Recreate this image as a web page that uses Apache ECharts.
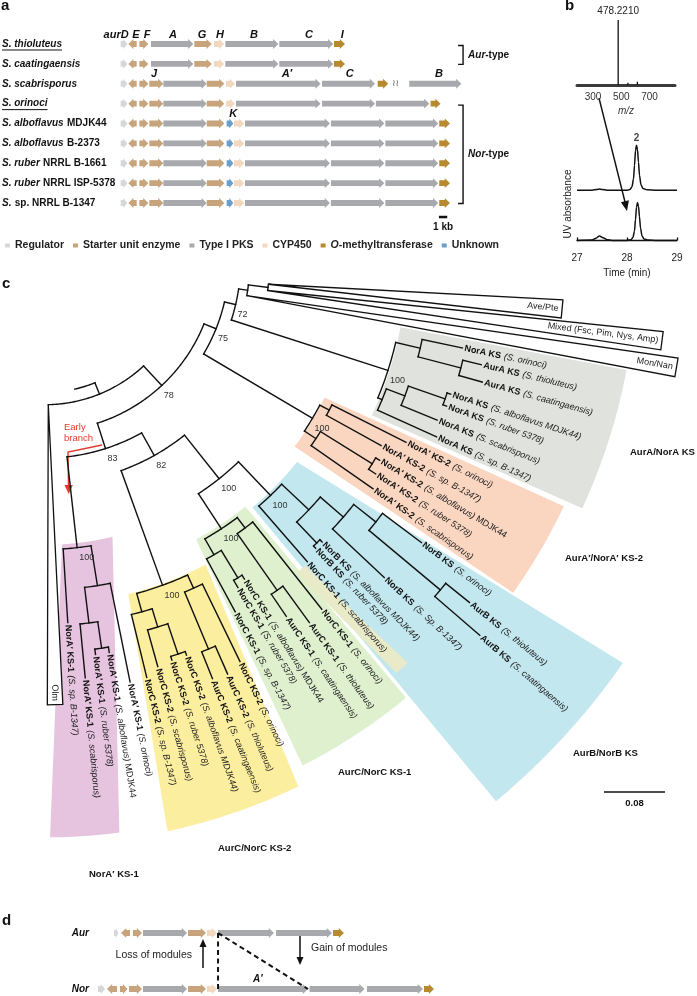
<!DOCTYPE html>
<html>
<head>
<meta charset="utf-8">
<script src="https://cdn.jsdelivr.net/npm/echarts@6.0.0/dist/echarts.min.js"></script>
<style>
html,body{margin:0;padding:0;background:#fff;}
#chart{width:697px;height:996px;}
</style>
</head>
<body>
<div id="chart"></div>
<script>
const FONT = '"Liberation Sans", Arial, Helvetica, sans-serif';

/* ================= a : gene clusters ================= */
const geneTypes = ['Regulator', 'Starter unit enzyme', 'Type I PKS', 'CYP450', 'O-methyltransferase', 'Unknown'];
const typeColors = ['#d6d7da', '#c7a47c', '#a7a9ac', '#f1d8bf', '#b88a2f', '#6b9fcb'];
const strainItalic = ['S. thioluteus', 'S. caatingaensis', 'S. scabrisporus', 'S. orinoci', 'S. alboflavus', 'S. alboflavus', 'S. ruber', 'S. ruber', 'S.'];
const strainPlain = ['', '', '', '', 'MDJK44', 'B-2373', 'NRRL B-1661', 'NRRL ISP-5378', 'sp. NRRL B-1347'];
const underlinedRows = [0, 3];
// genes: [start kb, end kb, strand, type index]
const aurCluster = [[0,0.8,1,0],[0.92,1.92,-1,1],[2.24,3.32,1,1],[3.64,8.72,1,2],[8.84,10.93,1,1],[11.2,12.43,1,3],[12.56,18.93,1,2],[19.04,25.52,1,2],[25.6,26.93,1,4]];
const scabCluster = [[0,0.8,1,0],[0.92,1.92,-1,1],[2.24,3.32,1,1],[3.44,5.12,1,1],[5.12,10.33,1,2],[10.33,12.44,1,1],[12.64,13.72,1,3],[13.84,24.0,1,2],[24.17,30.53,1,2],[30.85,32.12,1,4],[34.64,40.9,1,2]];
const orinociCluster = [[0,0.8,1,0],[0.92,1.92,-1,1],[2.24,3.32,1,1],[3.44,5.12,1,1],[5.12,10.33,1,2],[10.33,12.44,1,1],[12.64,13.72,1,3],[13.84,24.0,1,2],[24.17,30.53,1,2],[30.64,37.05,1,2],[37.2,38.4,1,4]];
const norCluster = [[0,0.8,1,0],[0.92,1.92,-1,1],[2.24,3.32,1,1],[3.44,5.12,1,1],[5.12,10.33,1,2],[10.33,12.44,1,1],[12.72,13.52,1,5],[13.6,14.84,1,3],[14.92,25.12,1,2],[25.24,31.65,1,2],[31.77,38.12,1,2],[38.24,39.53,1,4]];
const rowClusters = [aurCluster, aurCluster, scabCluster, orinociCluster, norCluster, norCluster, norCluster, norCluster, norCluster];
const geneNames = ['aurD','E','F','A','G','H','B','C','I','J','A\u2032','C','B','K'];
const geneNameKb = [-0.55,1.84,3.16,6.28,9.76,11.92,16.0,22.6,26.6,4.0,19.96,27.5,38.2,13.5];
const geneNameRow = [0,0,0,0,0,0,0,0,0,2,2,2,2,4];
const breakMark = [33.0, 2];
const typeGroups = ['Aur', 'Nor'];
const groupRows = [[0, 1], [3, 8]];
const groupKb = 41.1;
const kbBar = [38.2, 39.2, 8];

/* ================= b : MS + UV ================= */
const msMz = [478.221, 547, 614];
const msIntensity = [1, 0.035, 0.05];
const mzTicks = [300, 500, 700];
const uvTopTime = [27.0,27.30,27.40,27.45,27.50,27.60,28.00,28.06,28.10,28.13,28.15,28.17,28.19,28.21,28.23,28.25,28.28,28.32,28.40,28.60,29.00];
const uvTopAbs  = [0,0,0.02,0.03,0.02,0,0,0.02,0.08,0.25,0.55,0.88,1.00,0.90,0.62,0.33,0.12,0.04,0.01,0,0];
const uvBotTime = [27.0,27.30,27.38,27.45,27.52,27.60,27.70,28.00,28.08,28.12,28.15,28.17,28.19,28.21,28.23,28.25,28.27,28.30,28.34,28.42,28.60,29.00];
const uvBotAbs  = [0,0.01,0.06,0.12,0.07,0.02,0,0,0.02,0.08,0.25,0.55,0.88,1.00,0.90,0.62,0.33,0.12,0.04,0.01,0,0];
const peakTime = 28.19;

/* ================= c : KS tree ================= */
// internal node: [distance from root, bootstrap, child, child]; leaf: [protein, strain, angle deg, tip distance]
// collapsed clade: ['#', label, apex angle, far distance, angle from, angle to]
const cladeAurANorA = [0.283, 100,
  [0.316, 0, ['NorA KS', '(S. orinoci)', 11.9, 0.370],
             [0.374, 0, ['AurA KS', '(S. thioluteus)', 13.5, 0.399], ['AurA KS', '(S. caatingaensis)', 15.6, 0.406]]],
  [0.289, 0, [0.315, 0, [0.366, 0, ['NorA KS', '(S. alboflavus MDJK44)', 18.3, 0.371], ['NorA KS', '(S. ruber 5378)', 20.0, 0.371]],
                        ['NorA KS', '(S. scabrisporus)', 22.2, 0.366]],
             ['NorA KS', '(S. sp. B-1347)', 24.3, 0.374]]];
const cladeNorA2 = [0.218, 100,
  [0.232, 0, ['NorA\u2032 KS-2', '(S. orinoci)', 26.8, 0.341], ['NorA\u2032 KS-2', '(S. sp. B-1347)', 28.9, 0.314]],
  [0.236, 0, [0.316, 0, ['NorA\u2032 KS-2', '(S. alboflavus) MDJK44', 30.9, 0.322], ['NorA\u2032 KS-2', '(S. ruber 5378)', 32.9, 0.327]],
             ['NorA\u2032 KS-2', '(S. scabrisporus)', 34.9, 0.335]]];
const cladeNorB = [0.238, 100,
  [0.287, 0, [0.327, 0, [0.364, 0, ['NorB KS', '(S. orinoci)', 36.9, 0.428],
                                   [0.486, 0, ['AurB KS', '(S. thioluteus)', 38.9, 0.526], ['AurB KS', '(S. caatingaensis)', 40.8, 0.564]]],
                        ['NorB KS', '(S. Sp. B-1347)', 43.1, 0.420]],
             [0.325, 0, ['NorB KS', '(S. alboflavus MDJK44)', 45.5, 0.329], ['NorB KS', '(S. ruber 5378)', 46.8, 0.329]]],
  ['NorC KS-1', '(S. scabrisporus)', 49.0, 0.335]];
const cladeNorC1 = [0.232, 100,
  [0.249, 0, ['NorC KS-1', '(S. orinoci)', 51.6, 0.395],
             [0.340, 0, ['AurC KS-1', '(S. thioluteus)', 53.9, 0.399], ['AurC KS-1', '(S. caatingaensis)', 55.9, 0.375]]],
  [0.256, 0, [0.298, 0, ['NorC KS-1', '(S. alboflavus) MDJK44', 58.0, 0.304], ['NorC KS-1', '(S. ruber 5378)', 59.5, 0.309]],
             ['NorC KS-1', '(S. sp. B-1347)', 61.6, 0.335]]];
const cladeNorC2 = [0.264, 100,
  [0.283, 0, ['NorC KS-2', '(S. orinoci)', 64.1, 0.396],
             [0.364, 0, ['AurC KS-2', '(S. thioluteus)', 66.2, 0.404], ['AurC KS-2', '(S. caatingaensis)', 68.2, 0.402]]],
  [0.289, 0, [0.314, 0, [0.356, 0, ['NorC KS-2', '(S. alboflavus MDJK44)', 70.3, 0.361], ['NorC KS-2', '(S. ruber 5378)', 72.4, 0.361]],
                        ['NorC KS-2', '(S. scabrisporus)', 74.5, 0.364]],
             ['NorC KS-2', '(S. sp. B-1347)', 76.3, 0.374]]];
const cladeNorA1 = [0.190, 100,
  [0.243, 0, ['NorA\u2032 KS-1', '(S. orinoci)', 78.6, 0.375],
             [0.290, 0, [0.325, 0, ['NorA\u2032 KS-1', '(S. alboflavus) MDJK44', 80.7, 0.332], ['NorA\u2032 KS-1', '(S. ruber 5378)', 82.7, 0.332]],
                        ['NorA\u2032 KS-1', '(S. scabrisporus)', 84.5, 0.361]]],
  ['NorA\u2032 KS-1', '(S. sp. B-1347)', 86.4, 0.287]];
const cladeOutgroups = [0.079, 0,
  [0.105, 0, ['#', 'Ave/Pte', 6.2, 0.492, 4.4, 6.4], ['#', 'Mixed (Fsc, Pim, Nys, Amp)', 7.8, 0.627, 6.6, 8.3]],
  ['#', 'Mon/Nan', 10.0, 0.651, 8.8, 10.5]];
const backbone = [0, 0,
  ['#', 'Olm', 88.7, 0.394, 87.7, 89.7],
  [0.035, 78,
    [0.052, 75, [0.067, 72, cladeOutgroups, cladeAurANorA], cladeNorA2],
    [0.070, 83, [0.104, 82, [0.177, 100, cladeNorB, cladeNorC1], cladeNorC2], cladeNorA1]]];
const rootStub = [-0.016, 77];
// shaded clades: [inner dist, outer dist, inner angle from, inner angle to, outer angle from, outer angle to]
const cladeBoxes = [
  [0.285, 0.587, 10.7, 25.4, 10.7, 24.8],
  [0.219, 0.564, 26.2, 36.8, 25.4, 35.4],
  [0.234, 0.735, 38.7, 50.0, 34.9, 50.2],
  [0.227, 0.555, 50.9, 61.6, 50.5, 63.0],
  [0.337, 0.522, 49.6, 51.2, 48.0, 49.6],
  [0.262, 0.577, 62.2, 76.0, 64.3, 77.9],
  [0.184, 0.568, 76.3, 86.6, 82.6, 89.5]
];
const cladeColors = ['#dfe2dd', '#fad6c1', '#c2e7ef', '#dff0cf', '#e8eac8', '#fcee9f', '#e6c3df'];
const treeScale = 0.08;

/* ================= d : module change ================= */
const dRows = ['Aur', 'Nor'];
const dAur = [[1.87,2.4,1,0],[2.69,3.74,-1,1],[4.09,5.15,1,1],[5.26,10.41,1,2],[10.53,12.63,1,1],[12.75,13.92,1,3],[14.04,20.58,1,2],[20.82,27.37,1,2],[27.49,28.77,1,4]];
const dNor = [[0,0.82,1,0],[1.05,2.22,-1,1],[2.57,3.45,1,1],[3.63,5.15,1,1],[5.26,10.41,1,2],[10.53,12.63,1,1],[12.75,13.92,1,3],[14.04,24.56,1,2],[24.74,31.17,1,2],[31.46,38.01,1,2],[38.13,39.3,1,4]];
const moduleLinks = [[14.04, 0, 14.04, 1], [14.04, 0, 24.56, 1]];
const aPrimeLabel = [18.7, 1];

/* ================= helpers ================= */
function arrowItem(params, api) {
  const s = api.value(0), e = api.value(1), row = api.value(2), dir = api.value(3);
  const a = api.coord([s, row]), b = api.coord([e, row]);
  const y = a[1], x1 = a[0], x2 = b[0];
  const L = x2 - x1, hl = Math.min(5.2, L * 0.6), hb = 2.9, hh = 4.9;
  let pts;
  if (dir > 0) pts = [[x1,y-hb],[x2-hl,y-hb],[x2-hl,y-hh],[x2,y],[x2-hl,y+hh],[x2-hl,y+hb],[x1,y+hb]];
  else pts = [[x2,y-hb],[x1+hl,y-hb],[x1+hl,y-hh],[x1,y],[x1+hl,y+hh],[x1+hl,y+hb],[x2,y+hb]];
  return {type: 'polygon', shape: {points: pts}, style: {fill: api.visual('color')}};
}
function arcPts(api, d, a0, a1) {
  const pts = [];
  const n = Math.max(2, Math.ceil(Math.abs(a1 - a0) / 0.4) + 1);
  for (let k = 0; k < n; k++) pts.push(api.coord([d, a0 + (a1 - a0) * k / (n - 1)]));
  return pts;
}
const T = {radials: [], arcs: [], leaves: [], collapsed: [], supports: []};
function walk(n, pd) {
  if (typeof n[0] === 'string') {
    if (n[0] === '#') { T.collapsed.push([pd, n[2], n[3], n[4], n[5], n[1]]); return n[2]; }
    T.leaves.push([n[3], n[2], n[0], n[1]]);
    T.radials.push([pd, n[3], n[2]]);
    return n[2];
  }
  const angs = n.slice(2).map(k => walk(k, n[0]));
  const lo = Math.min(...angs), hi = Math.max(...angs), a = (lo + hi) / 2;
  T.arcs.push([n[0], lo, hi]);
  if (pd !== null) T.radials.push([pd, n[0], a]);
  if (n[1]) T.supports.push([n[0], a, n[1]]);
  return a;
}
const rootAngle = walk(backbone, null);
T.radials.push([rootStub[0], 0, rootAngle]);
T.arcs.push([rootStub[0], rootAngle, rootStub[1]]);

function leafText(prot, strain) {
  const k = strain.indexOf(') ');
  if (k >= 0) return '{b|' + prot + '} {i|' + strain.slice(0, k + 1) + '}{n|' + strain.slice(k + 1) + '}';
  return '{b|' + prot + '} {i|' + strain + '}';
}
const leafRich = {
  b: {fontFamily: FONT, fontSize: 9, fontWeight: 'bold', fill: '#111'},
  i: {fontFamily: FONT, fontSize: 9, fontStyle: 'italic', fill: '#222'},
  n: {fontFamily: FONT, fontSize: 9, fill: '#222'}
};
const LINE = '#111';

function measure(text, font) {
  const c = document.createElement('canvas').getContext('2d');
  c.font = font;
  return c.measureText(text).width;
}

/* ================= option ================= */
const geneSeries = geneTypes.map((name, t) => ({
  type: 'custom', name, xAxisIndex: 0, yAxisIndex: 0, z: 3,
  itemStyle: {color: typeColors[t]},
  encode: {x: [0, 1], y: 2},
  data: rowClusters.flatMap((cl, row) => cl.filter(g => g[3] === t).map(g => [g[0], g[1], row, g[2]])),
  renderItem: arrowItem
}));
const dGeneSeries = geneTypes.map((name, t) => ({
  type: 'custom', name: 'd-' + name, xAxisIndex: 4, yAxisIndex: 4, z: 3,
  itemStyle: {color: typeColors[t]},
  encode: {x: [0, 1], y: 2},
  data: [dAur, dNor].flatMap((cl, row) => cl.filter(g => g[3] === t).map(g => [g[0], g[1], row, g[2]])),
  renderItem: arrowItem
}));

const series = [].concat(geneSeries, dGeneSeries, [
  { // gene names
    type: 'custom', xAxisIndex: 0, yAxisIndex: 0, z: 4,
    data: geneNames.map((g, i) => [geneNameKb[i], geneNameRow[i]]),
    renderItem: (params, api) => {
      const p = api.coord([api.value(0), api.value(1)]);
      return {type: 'text', x: p[0], y: p[1] - 9.5, style: {text: geneNames[params.dataIndex], font: 'italic bold 11px ' + FONT, fill: '#111', align: 'center', verticalAlign: 'middle'}};
    }
  },
  { // break mark
    type: 'custom', xAxisIndex: 0, yAxisIndex: 0, z: 4,
    data: [breakMark],
    renderItem: (params, api) => {
      const p = api.coord([api.value(0), api.value(1)]);
      return {type: 'text', x: p[0], y: p[1], style: {text: '\u2240\u2240', font: '9px "DejaVu Sans"', fill: '#555', align: 'center', verticalAlign: 'middle'}};
    }
  },
  { // Aur / Nor type brackets
    type: 'custom', xAxisIndex: 0, yAxisIndex: 0, z: 4,
    data: groupRows.map(r => [groupKb, r[0], r[1]]),
    encode: {x: 0, y: 1},
    renderItem: (params, api) => {
      const p0 = api.coord([api.value(0), api.value(1)]), p1 = api.coord([api.value(0), api.value(2)]);
      const yt = p0[1] + 1.5, yb = p1[1] + 0.5, x = p0[0];
      return {type: 'group', children: [
        {type: 'polyline', shape: {points: [[x - 5, yt], [x, yt], [x, yb], [x - 5, yb]]}, style: {stroke: '#111', lineWidth: 1.4, fill: 'none'}},
        {type: 'text', x: x + 5, y: (yt + yb) / 2, style: {text: '{i|' + typeGroups[params.dataIndex] + '}{n|-type}', verticalAlign: 'middle', align: 'left',
          rich: {i: {fontFamily: FONT, fontSize: 10, fontWeight: 'bold', fontStyle: 'italic', fill: '#111'}, n: {fontFamily: FONT, fontSize: 10, fontWeight: 'bold', fill: '#111'}}}}
      ]};
    }
  },
  { // 1 kb scale bar
    type: 'custom', xAxisIndex: 0, yAxisIndex: 0, z: 4,
    data: [kbBar],
    encode: {x: [0, 1], y: 2},
    renderItem: (params, api) => {
      const p0 = api.coord([api.value(0), api.value(2)]), p1 = api.coord([api.value(1), api.value(2)]);
      const y = p0[1] + 14;
      return {type: 'group', children: [
        {type: 'line', shape: {x1: p0[0], y1: y, x2: p1[0], y2: y}, style: {stroke: '#111', lineWidth: 2.5}},
        {type: 'text', x: (p0[0] + p1[0]) / 2, y: y + 10, style: {text: '1 kb', font: 'bold 10px ' + FONT, fill: '#111', align: 'center', verticalAlign: 'middle'}}
      ]};
    }
  },
  { // MS spectrum
    type: 'bar', xAxisIndex: 1, yAxisIndex: 1, barWidth: 1.3, itemStyle: {color: '#111'},
    data: msMz.map((m, i) => i === 0 ? {value: [m, msIntensity[i]], label: {show: true, position: 'top', distance: 4, formatter: '478.2210', fontSize: 10, color: '#222', fontFamily: FONT}} : [m, msIntensity[i]])
  },
  {
    type: 'line', xAxisIndex: 2, yAxisIndex: 2, showSymbol: false, smooth: 0.3, smoothMonotone: 'x',
    lineStyle: {color: '#111', width: 1.5}, itemStyle: {color: '#111'},
    data: uvTopTime.map((t, i) => [t, uvTopAbs[i]])
  },
  {
    type: 'scatter', xAxisIndex: 2, yAxisIndex: 2, symbolSize: 0,
    data: [[peakTime, uvTopAbs[uvTopTime.indexOf(peakTime)]]],
    label: {show: true, position: 'top', distance: 2, formatter: '2', fontSize: 10, fontWeight: 'bold', color: '#111', fontFamily: FONT}
  },
  {
    type: 'line', xAxisIndex: 3, yAxisIndex: 3, showSymbol: false, smooth: 0.3, smoothMonotone: 'x',
    lineStyle: {color: '#111', width: 1.5}, itemStyle: {color: '#111'},
    data: uvBotTime.map((t, i) => [t, uvBotAbs[i]])
  },
  { // d: module gain/loss dashed lines
    type: 'custom', xAxisIndex: 4, yAxisIndex: 4, z: 4,
    data: moduleLinks,
    encode: {x: [0, 2], y: [1, 3]},
    renderItem: (params, api) => {
      const p0 = api.coord([api.value(0), api.value(1)]), p1 = api.coord([api.value(2), api.value(3)]);
      return {type: 'line', shape: {x1: p0[0], y1: p0[1], x2: p1[0], y2: p1[1]}, style: {stroke: '#111', lineWidth: 2, lineDash: [5, 3.5]}};
    }
  },
  {
    type: 'custom', xAxisIndex: 4, yAxisIndex: 4, z: 4,
    data: [aPrimeLabel],
    renderItem: (params, api) => {
      const p = api.coord([api.value(0), api.value(1)]);
      return {type: 'text', x: p[0], y: p[1] - 10, style: {text: 'A\u2032', font: 'italic bold 10px ' + FONT, fill: '#111', align: 'center', verticalAlign: 'middle'}};
    }
  },
  /* ----- tree (polar) ----- */
  {
    type: 'custom', coordinateSystem: 'polar', polarIndex: 0, z: 1,
    data: cladeBoxes,
    renderItem: (params, api) => {
      const v = cladeBoxes[params.dataIndex];
      const pts = arcPts(api, v[0], v[2], v[3]).concat(arcPts(api, v[1], v[5], v[4]));
      return {type: 'polygon', shape: {points: pts}, style: {fill: cladeColors[params.dataIndex]}};
    }
  },
  {
    type: 'custom', coordinateSystem: 'polar', polarIndex: 0, z: 2,
    data: T.radials,
    renderItem: (params, api) => {
      const a = api.value(2);
      const p0 = api.coord([api.value(0), a]), p1 = api.coord([api.value(1), a]);
      return {type: 'line', shape: {x1: p0[0], y1: p0[1], x2: p1[0], y2: p1[1]}, style: {stroke: LINE, lineWidth: 1.4, lineCap: 'square'}};
    }
  },
  {
    type: 'custom', coordinateSystem: 'polar', polarIndex: 0, z: 2,
    data: T.arcs,
    renderItem: (params, api) => ({type: 'polyline', shape: {points: arcPts(api, api.value(0), api.value(1), api.value(2))}, style: {stroke: LINE, lineWidth: 1.4, fill: 'none', lineCap: 'square'}})
  },
  {
    type: 'custom', coordinateSystem: 'polar', polarIndex: 0, z: 2,
    data: T.collapsed.map(c => c.slice(0, 5)),
    renderItem: (params, api) => {
      const c = T.collapsed[params.dataIndex];
      const apex = api.coord([c[0], c[1]]), q1 = api.coord([c[2], c[3]]), q2 = api.coord([c[2], c[4]]);
      const mid = (c[3] + c[4]) / 2;
      const tp = api.coord([c[2] - 0.005, mid]);
      return {type: 'group', children: [
        {type: 'polygon', shape: {points: [apex, q1, q2]}, style: {fill: '#fff', stroke: LINE, lineWidth: 1.3}},
        {type: 'text', x: tp[0], y: tp[1], rotation: -mid * Math.PI / 180, style: {text: c[5], font: '9px ' + FONT, fill: '#222', align: 'right', verticalAlign: 'middle'}}
      ]};
    }
  },
  {
    type: 'custom', coordinateSystem: 'polar', polarIndex: 0, z: 3,
    data: T.leaves.map(l => [l[0], l[1]]),
    renderItem: (params, api) => {
      const l = T.leaves[params.dataIndex];
      const p = api.coord([l[0] + 0.003, l[1]]);
      return {type: 'text', x: p[0], y: p[1], rotation: -l[1] * Math.PI / 180,
        style: {text: leafText(l[2], l[3]), rich: leafRich, align: 'left', verticalAlign: 'middle'}};
    }
  },
  {
    type: 'custom', coordinateSystem: 'polar', polarIndex: 0, z: 3,
    data: T.supports,
    renderItem: (params, api) => {
      const p = api.coord([api.value(0), api.value(1)]);
      return {type: 'text', x: p[0] + 2, y: p[1] + 10, style: {text: String(T.supports[params.dataIndex][2]), font: '9px ' + FONT, fill: '#333', align: 'left', verticalAlign: 'middle'}};
    }
  },
  { // tree scale bar
    type: 'custom', coordinateSystem: 'polar', polarIndex: 0, z: 3,
    data: [[treeScale, 0]],
    renderItem: (params, api) => {
      const p0 = api.coord([0, 0]), p1 = api.coord([api.value(0), 0]);
      const L = p1[0] - p0[0], x = 604, y = 792;
      return {type: 'group', children: [
        {type: 'line', shape: {x1: x, y1: y, x2: x + L, y2: y}, style: {stroke: '#111', lineWidth: 1.5}},
        {type: 'text', x: x + L / 2, y: y + 11, style: {text: String(treeScale), font: 'bold 9.5px ' + FONT, fill: '#111', align: 'center', verticalAlign: 'middle'}}
      ]};
    }
  }
]);

const hiddenX = (min, max, gi) => ({type: 'value', gridIndex: gi, min, max, show: false});
const option = {
  animation: false,
  backgroundColor: '#ffffff',
  textStyle: {fontFamily: FONT},
  legend: {
    data: geneTypes, left: 0, top: 235, icon: 'rect', itemWidth: 5, itemHeight: 4, itemGap: 9, selectedMode: false,
    textStyle: {fontFamily: FONT, fontSize: 10.5, fontWeight: 'bold', color: '#222',
      rich: {i: {fontFamily: FONT, fontSize: 10.5, fontWeight: 'bold', fontStyle: 'italic', color: '#222'}}},
    formatter: n => n === 'O-methyltransferase' ? '{i|O}-methyltransferase' : n
  },
  grid: [
    {left: 120.7, top: 34.06, width: 41 * 8.33, height: 178.9, outerBoundsMode: 'none'},
    {left: 577, top: 20, width: 98, height: 65, outerBoundsMode: 'none'},
    {left: 577, top: 138, width: 100, height: 55, outerBoundsMode: 'none'},
    {left: 577, top: 195, width: 100, height: 53, outerBoundsMode: 'none'},
    {left: 98, top: 933, width: 342, height: 56, outerBoundsMode: 'none'}
  ],
  xAxis: [
    hiddenX(0, 41, 0),
    {type: 'value', gridIndex: 1, min: 187, max: 880,
      axisLine: {lineStyle: {color: '#3a3a3a', width: 3}}, axisTick: {show: false}, splitLine: {show: false},
      axisLabel: {customValues: mzTicks, fontSize: 10, color: '#333', margin: 7, fontFamily: FONT},
      name: 'm/z', nameLocation: 'middle', nameGap: 21, nameTextStyle: {fontStyle: 'italic', fontSize: 10, color: '#333', fontFamily: FONT}},
    hiddenX(27, 29, 2),
    {type: 'value', gridIndex: 3, min: 27, max: 29, interval: 1,
      axisLine: {lineStyle: {color: '#111', width: 1.3}}, axisTick: {inside: true, length: 3, lineStyle: {color: '#111', width: 1.3}},
      splitLine: {show: false}, axisLabel: {fontSize: 10, color: '#222', margin: 5, fontFamily: FONT},
      name: 'Time (min)', nameLocation: 'middle', nameGap: 20, nameTextStyle: {fontSize: 10, color: '#222', fontFamily: FONT}},
    hiddenX(0, 40, 4)
  ],
  yAxis: [
    {type: 'category', gridIndex: 0, inverse: true, data: strainItalic.map((s, i) => String(i)),
      axisLine: {show: false}, axisTick: {show: false}, splitLine: {show: false},
      axisLabel: {interval: 0, align: 'left', margin: 118.7,
        formatter: (v, i) => strainPlain[i] ? '{i|' + strainItalic[i] + '} {n|' + strainPlain[i] + '}' : '{i|' + strainItalic[i] + '}',
        rich: {i: {fontFamily: FONT, fontSize: 10, fontWeight: 'bold', fontStyle: 'italic', color: '#111'},
               n: {fontFamily: FONT, fontSize: 10, fontWeight: 'bold', color: '#111'}}}},
    {type: 'value', gridIndex: 1, min: 0, max: 1, show: false},
    {type: 'value', gridIndex: 2, min: -0.06, max: 1.16, show: false},
    {type: 'value', gridIndex: 3, min: -0.2, max: 1.2, show: false},
    {type: 'category', gridIndex: 4, inverse: true, boundaryGap: false, data: dRows,
      axisLine: {show: false}, axisTick: {show: false}, splitLine: {show: false},
      axisLabel: {interval: 0, margin: 9, fontSize: 10, fontWeight: 'bold', fontStyle: 'italic', color: '#111', fontFamily: FONT}}
  ],
  polar: {center: [45, 260], radius: [0, 716]},
  angleAxis: {type: 'value', polarIndex: 0, min: 0, max: 360, startAngle: 0, clockwise: true, show: false},
  radiusAxis: {type: 'value', polarIndex: 0, min: -0.19, max: 0.75, show: false},
  series
};

/* annotations */
const g = [];
const panelTxt = (t, x, y) => ({type: 'text', x, y, style: {text: t, font: 'bold 15px ' + FONT, fill: '#111', verticalAlign: 'middle'}});
g.push(panelTxt('a', 1, 6), panelTxt('b', 565, 6), panelTxt('c', 2, 284), panelTxt('d', 2, 921));
// underlines
const ulFont = 'italic bold 10px "Liberation Sans"';
const rowY = r => 34.06 + (r + 0.5) * 178.9 / 9;
underlinedRows.forEach(r => {
  const w = measure(strainItalic[r], ulFont);
  g.push({type: 'line', shape: {x1: 2, y1: rowY(r) + 6, x2: 2 + w, y2: rowY(r) + 6}, style: {stroke: '#111', lineWidth: 1}});
});
// UV absorbance label
g.push({type: 'text', x: 568, y: 204, rotation: Math.PI / 2, style: {text: 'UV absorbance', font: '10px ' + FONT, fill: '#222', align: 'center', verticalAlign: 'middle'}});
// arrow MS -> chromatogram
g.push({type: 'line', shape: {x1: 599, y1: 98, x2: 625, y2: 202}, style: {stroke: '#111', lineWidth: 1.4}});
g.push({type: 'polygon', shape: {points: [[627, 211], [628.9, 200.3], [620.9, 202.3]]}, style: {fill: '#111'}});
// early branch
g.push({type: 'text', x: 64, y: 433, style: {text: 'Early\nbranch', font: '9.5px ' + FONT, fill: '#e2392d', lineHeight: 11, verticalAlign: 'middle'}});
g.push({type: 'polyline', shape: {points: [[102, 445], [68, 452], [68.5, 486]]}, style: {stroke: '#e2392d', lineWidth: 1.4, fill: 'none'}});
g.push({type: 'polygon', shape: {points: [[68.7, 494], [64.5, 485], [72.9, 485]]}, style: {fill: '#e2392d'}});
// clade group labels
const grp = (t, x, y) => ({type: 'text', x, y, style: {text: t, font: 'bold 9.5px ' + FONT, fill: '#111', verticalAlign: 'middle'}});
g.push(grp('AurA/NorA KS', 630, 452), grp('AurA\u2032/NorA\u2032 KS-2', 565, 558), grp('AurB/NorB KS', 573, 753),
       grp('AurC/NorC KS-1', 338, 772), grp('AurC/NorC KS-2', 218, 848), grp('NorA\u2032 KS-1', 89, 874));
// d panel arrows and text
g.push({type: 'line', shape: {x1: 203, y1: 968, x2: 203, y2: 946}, style: {stroke: '#111', lineWidth: 1.5}});
g.push({type: 'polygon', shape: {points: [[203, 939], [199.5, 947], [206.5, 947]]}, style: {fill: '#111'}});
g.push({type: 'line', shape: {x1: 300, y1: 936, x2: 300, y2: 957}, style: {stroke: '#111', lineWidth: 1.5}});
g.push({type: 'polygon', shape: {points: [[300, 965], [296.5, 957], [303.5, 957]]}, style: {fill: '#111'}});
g.push({type: 'text', x: 192, y: 955, style: {text: 'Loss of modules', font: '10.5px ' + FONT, fill: '#222', align: 'right', verticalAlign: 'middle'}});
g.push({type: 'text', x: 311, y: 948, style: {text: 'Gain of modules', font: '10.5px ' + FONT, fill: '#222', align: 'left', verticalAlign: 'middle'}});
option.graphic = {elements: g};

const chart = echarts.init(document.getElementById('chart'), null, {renderer: 'canvas', width: 697, height: 996});
chart.setOption(option);
</script>
</body>
</html>
